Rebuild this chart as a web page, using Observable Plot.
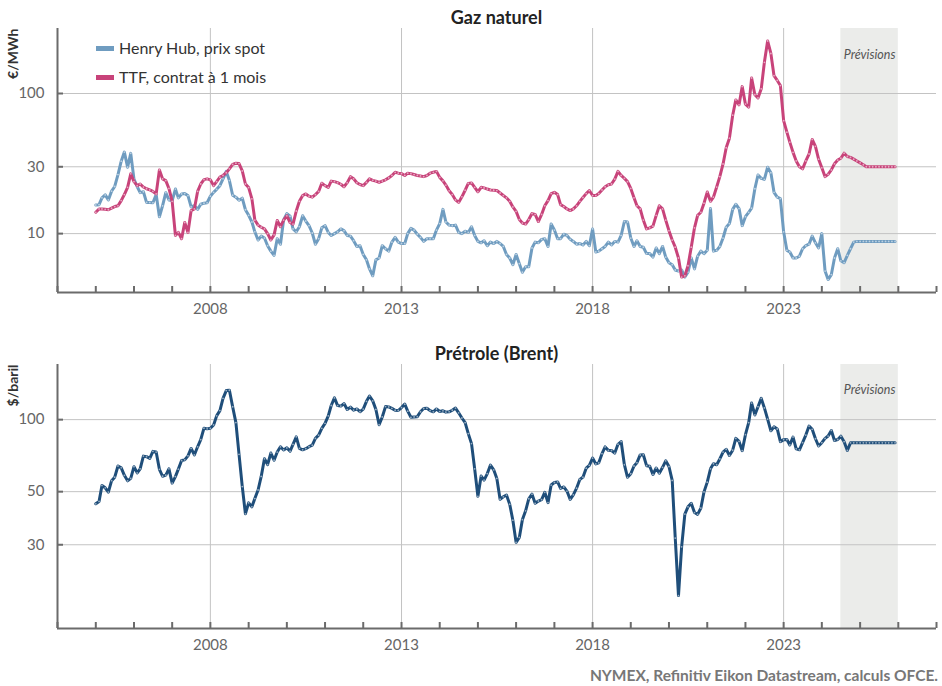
<!DOCTYPE html>
<html><head><meta charset="utf-8">
<script src="https://cdn.jsdelivr.net/npm/d3@7"></script>
<script src="https://cdn.jsdelivr.net/npm/@observablehq/plot@0.6"></script>
<style>
body{margin:0;background:#fff;font-family:Lato,"Open Sans",sans-serif;}
#wrap{position:relative;width:942px;height:686px;overflow:hidden;}
.panel{position:absolute;left:0;}
.title{position:absolute;left:57px;width:879px;text-align:center;font-weight:700;font-size:18px;color:#222;line-height:20px;}
.leg{position:absolute;left:96px;font-size:16px;color:#333;line-height:20px;}
.leg span{display:inline-block;width:18px;height:5px;vertical-align:middle;margin-right:5px;position:relative;top:-1px;}
.cap{position:absolute;right:4px;top:666px;font-weight:700;font-size:15.5px;color:#777;}
</style></head>
<body><div id="wrap">
<div class="title" style="top:7px">Gaz naturel</div>
<div class="title" style="top:343px">Prétrole (Brent)</div>
<div id="p1" class="panel" style="top:0px"></div>
<div id="p2" class="panel" style="top:336px"></div>
<div class="leg" style="top:38px"><span style="background:#6f9cc0"></span>Henry Hub, prix spot</div>
<div class="leg" style="top:67px"><span style="background:#c8437a"></span>TTF, contrat à 1 mois</div>
<div class="cap">NYMEX, Refinitiv Eikon Datastream, calculs OFCE.</div>
</div>
<script>
// ---- data (monthly, Jan 2005 - Dec 2025) ----
const henryHub = [
16.0,16.1,18.0,18.9,17.4,20.1,21.7,26.4,32.9,38.2,29.8,37.4,
24.5,21.6,19.6,19.9,16.7,16.7,16.6,19.0,13.2,15.8,19.6,17.4,
17.2,20.8,18.0,19.2,19.3,18.7,15.5,15.8,14.9,16.2,16.5,16.6,
18.5,19.7,20.7,22.0,24.6,27.8,23.9,18.8,18.2,17.3,17.9,14.8,
13.5,12.1,10.3,9.0,9.6,9.3,8.2,7.5,7.0,9.2,8.4,12.5,
13.9,13.3,10.8,10.3,11.2,13.4,12.3,11.4,10.1,8.4,9.2,11.0,
11.4,10.2,9.7,10.0,10.3,10.8,10.5,9.7,9.6,8.9,8.1,8.2,
7.1,6.5,5.6,5.0,6.5,6.7,8.2,7.8,7.5,8.7,9.4,8.7,
8.5,8.5,10.0,10.9,10.6,9.9,9.4,8.8,9.2,9.2,9.2,10.6,
11.8,14.9,12.1,11.5,11.4,11.5,10.2,10.0,10.4,10.2,11.2,9.7,
8.8,8.6,8.9,8.2,8.7,8.5,8.8,8.5,8.1,7.1,6.7,6.0,
7.1,6.1,5.3,5.8,5.8,7.9,8.7,8.6,9.1,9.2,8.1,11.7,
10.6,9.2,9.2,9.9,9.7,9.1,8.8,8.4,8.5,8.3,8.8,8.2,
10.8,7.4,7.5,7.8,8.1,8.7,8.3,8.8,8.7,9.7,12.2,12.1,
9.3,8.1,8.9,8.1,8.0,7.2,7.2,6.8,7.9,7.2,8.1,6.8,
6.2,6.0,5.5,5.4,5.5,4.9,5.3,6.7,5.6,6.9,7.5,7.2,
7.6,15.1,7.5,7.6,8.1,9.3,11.1,11.8,14.9,16.2,15.1,11.4,
13.2,14.2,15.2,20.9,26.2,24.8,24.4,29.8,27.2,19.7,18.2,17.8,
10.3,7.6,7.4,6.7,6.7,6.9,7.8,8.2,8.4,9.6,8.6,7.9,
10.0,5.4,4.7,5.1,6.7,7.8,6.4,6.2,7.0,7.8,8.7,8.8,
8.8,8.8,8.8,8.8,8.8,8.8,8.8,8.8,8.8,8.8,8.8,8.8
];
const ttf = [
14.2,15.0,15.0,14.9,14.8,15.2,15.6,15.8,17.2,19.0,21.4,26.7,
23.5,22.0,22.6,21.5,20.9,20.5,20.0,19.2,28.5,24.6,23.9,21.0,
17.0,9.7,10.2,9.2,12.0,10.2,14.6,15.0,20.0,22.6,24.3,24.6,
24.2,22.0,23.5,25.3,26.0,27.2,29.0,31.2,31.8,31.6,28.0,22.6,
21.3,17.7,12.5,11.5,11.1,10.8,10.0,9.0,9.8,12.4,11.2,12.5,
13.4,12.0,11.7,14.5,17.0,18.7,19.2,18.5,18.2,19.0,20.0,22.9,
22.0,21.4,23.7,23.5,23.1,22.5,21.6,23.1,25.5,24.6,23.1,22.4,
22.0,23.2,24.6,24.0,23.7,23.2,23.7,24.2,25.0,26.0,27.4,27.0,
26.8,26.0,27.0,26.8,26.4,26.0,25.8,25.5,26.0,27.0,27.4,27.8,
25.2,23.8,22.2,20.2,19.0,17.4,16.7,18.3,20.4,22.8,23.0,21.4,
19.9,21.4,21.2,20.8,20.5,20.4,20.3,19.5,18.7,18.0,17.0,15.5,
14.4,12.6,11.9,11.7,12.6,13.9,13.7,12.2,13.7,15.8,17.2,19.3,
19.7,19.0,16.1,15.6,15.0,14.6,15.0,15.8,17.0,18.1,19.3,20.3,
18.7,18.7,19.3,20.5,21.6,22.3,22.6,24.5,27.8,26.0,24.8,23.5,
21.0,18.0,15.8,15.0,12.5,10.8,11.0,11.3,13.5,15.8,15.0,12.5,
10.5,9.0,8.0,6.7,4.9,5.0,5.9,8.0,11.0,13.5,14.2,16.5,
19.8,17.0,18.2,21.5,25.5,31.4,41,48,70,90,83,112,
84,80,129,98,93,108,167,237,193,134,124,114,
64,53,45,38,33,30,29,33,37,47,42,34,
29.5,25.5,26.5,28.5,31.5,33.5,34.5,37.5,35.5,35,34,33,
32,31,30,30,30,30,30,30,30,30,30,30
];
const brent = [
44.5,45.5,53.1,51.9,49.8,55.6,57.5,64.0,62.9,58.5,55.5,56.8,
63.6,59.9,62.3,70.4,70.0,68.9,73.7,73.2,62.0,58.0,58.6,62.3,
54.3,57.8,62.1,67.5,67.9,70.6,75.8,71.2,77.0,82.5,92.1,91.5,
92.0,95.0,103.7,109.1,122.8,132.3,132.7,113.2,97.2,71.6,52.5,40.4,
44.9,43.2,46.8,50.8,57.9,68.6,64.9,72.5,67.7,73.2,77.0,74.7,
76.2,73.8,78.8,84.8,75.9,74.8,75.6,77.1,78.2,83.5,86.1,92.0,
96.5,103.7,114.6,123.3,114.5,113.9,116.7,110.2,112.8,109.6,110.8,107.9,
110.7,119.3,125.5,119.8,110.3,95.2,102.6,113.4,113.0,111.5,109.5,109.2,
112.3,116.1,108.5,102.3,102.6,102.9,107.9,111.3,111.6,109.1,107.8,110.8,
108.1,108.9,107.5,107.8,109.5,111.8,106.8,101.6,97.1,87.4,79.4,62.3,
47.8,58.1,55.9,59.5,64.6,61.7,56.8,46.5,47.6,48.4,44.3,38.0,
30.7,32.2,38.2,41.6,46.7,48.8,44.7,45.7,46.3,49.7,45.0,53.3,
54.6,54.9,51.6,52.3,50.3,46.4,48.5,51.7,56.2,57.5,62.7,64.4,
69.1,65.3,66.0,72.1,76.9,74.4,74.3,72.5,78.9,81.0,64.8,57.4,
59.4,64.0,66.1,71.2,71.3,64.2,63.9,59.0,62.8,59.7,63.2,67.3,
63.7,55.7,32.0,18.4,29.4,40.3,43.2,44.7,40.9,40.2,42.7,49.9,
54.8,62.3,65.4,64.8,68.5,73.2,75.2,70.8,74.5,83.5,81.1,74.2,
86.5,97.1,117.3,104.6,113.3,122.7,111.9,100.5,89.8,93.3,91.4,80.9,
82.5,82.6,78.4,84.6,75.5,74.8,80.1,86.2,94.0,91.1,83.2,77.6,
80.1,83.5,85.4,90.1,81.8,82.6,85.3,80.9,74.3,80,80,80,
80,80,80,80,80,80,80,80,80,80,80,80
];
const firstMonth = [2005, 0];
const axisYears = [2004, 2027];
const labelYears = [2008, 2013, 2018, 2023];
const gasTicks = [10, 30, 100];
const oilTicks = [30, 50, 100];
const gasDomain = [3.8, 291];
const oilDomain = [13.4, 170];
const forecast = [[2024, 6], [2026, 0]];

// ---- build tables ----
const months = henryHub.map((_, i) => new Date(Date.UTC(firstMonth[0], firstMonth[1] + i, 1)));
const gasRows = months.map((d, i) => ({date: d, hh: henryHub[i], ttf: ttf[i]}));
const oilRows = months.map((d, i) => ({date: d, brent: brent[i]}));
const allYears = d3.range(axisYears[0], axisYears[1] + 1).map(y => new Date(Date.UTC(y, 0, 1)));
const labelDates = labelYears.map(y => new Date(Date.UTC(y, 0, 1)));
const fc = [{x1: new Date(Date.UTC(...forecast[0], 1)), x2: new Date(Date.UTC(...forecast[1], 1))}];
const fcMid = [new Date((+fc[0].x1 + +fc[0].x2) / 2)];
const xDomain = [allYears[0], allYears[allYears.length - 1]];

const W = 942, H = 325, ML = 57, MR = 6, MT = 28, MB = 33;
const PW = W - ML - MR, PH = H - MT - MB;
const axisCol = "#6b6b6b", gridCol = "#c3c3c3";

function panel({domain, ticks, unit, series, prevDy}) {
  const marks = [
    Plot.rect(fc, {x1: "x1", x2: "x2", y1: () => domain[0], y2: () => domain[1], fill: "#ebecea"}),
    Plot.ruleX(labelDates, {stroke: gridCol, strokeWidth: 1}),
    Plot.ruleY(ticks, {stroke: gridCol, strokeWidth: 1}),
    Plot.ruleX([xDomain[0]], {stroke: axisCol, strokeWidth: 2}),
    Plot.ruleY([domain[0]], {stroke: axisCol, strokeWidth: 2}),
    Plot.ruleX(allYears, {stroke: axisCol, strokeWidth: 2, insetTop: PH - 6}),
    Plot.ruleY(ticks, {stroke: axisCol, strokeWidth: 2, insetRight: PW - 6}),
    Plot.axisX(labelDates, {tickSize: 0, tickPadding: 11, tickFormat: d3.utcFormat("%Y"), fontSize: 15, fill: "#666", label: null}),
    Plot.axisY(ticks, {tickSize: 0, tickPadding: 13, tickFormat: d => String(d), fontSize: 15, fill: "#666", label: null}),
    Plot.text(fcMid, {x: d => d, frameAnchor: "top", dy: prevDy, text: () => "Prévisions", fontStyle: "italic", fontSize: 12.5, fill: "#555"}),
    Plot.text([unit], {frameAnchor: "top-left", dx: -44, dy: 0, rotate: -90, textAnchor: "end", lineAnchor: "middle", text: d => d, fontWeight: "bold", fontSize: 14, fill: "#333"})
  ];
  for (const s of series) {
    marks.push(Plot.line(s.rows, {x: "date", y: s.key, stroke: s.color, strokeWidth: 3, strokeLinejoin: "round"}));
    marks.push(Plot.dot(s.rows, {x: "date", y: s.key, r: 0.9, fill: "#fff", fillOpacity: 0.55, stroke: null}));
  }
  return Plot.plot({
    width: W, height: H, marginLeft: ML, marginRight: MR, marginTop: MT, marginBottom: MB,
    style: {fontFamily: "Lato, 'Open Sans', sans-serif", background: "transparent", overflow: "visible"},
    x: {type: "utc", domain: xDomain, axis: null},
    y: {type: "log", domain, axis: null},
    marks
  });
}

document.getElementById("p1").appendChild(panel({
  domain: gasDomain, ticks: gasTicks, unit: "€/MWh", prevDy: 22,
  series: [
    {rows: gasRows, key: "hh", color: "#6f9cc0"},
    {rows: gasRows, key: "ttf", color: "#c8437a"}
  ]
}));
document.getElementById("p2").appendChild(panel({
  domain: oilDomain, ticks: oilTicks, unit: "$/baril", prevDy: 21,
  series: [{rows: oilRows, key: "brent", color: "#1f4e7a"}]
}));
</script>
</body></html>
